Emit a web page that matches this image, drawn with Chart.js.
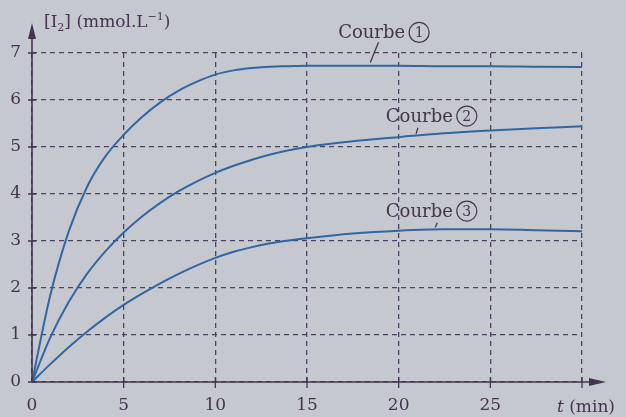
<!DOCTYPE html>
<html>
<head>
<meta charset="utf-8">
<script src="https://cdn.jsdelivr.net/npm/chart.js@4/dist/chart.umd.min.js"></script>
<style>
  body { margin: 0; background: #c6c8cf; }
  canvas { display: block; }
</style>
</head>
<body>
<canvas id="kinetics" width="626" height="417"></canvas>
<script>
// Data (t in min, [I2] in mmol/L)
const times = [0, 1, 2, 3, 4, 5, 6, 7, 8, 9, 10, 11, 12, 13, 14, 15, 17.5, 20, 22.5, 25, 27.5, 30];
const courbe1 = [0, 1.85, 3.2, 4.15, 4.8, 5.26, 5.64, 5.95, 6.2, 6.39, 6.54, 6.63, 6.68, 6.71, 6.72, 6.73, 6.73, 6.73, 6.72, 6.72, 6.71, 6.7];
const courbe2 = [0, 0.95, 1.7, 2.3, 2.78, 3.18, 3.52, 3.81, 4.06, 4.27, 4.45, 4.6, 4.73, 4.84, 4.93, 5.0, 5.12, 5.21, 5.29, 5.35, 5.4, 5.44];
const courbe3 = [0, 0.38, 0.74, 1.07, 1.37, 1.64, 1.88, 2.1, 2.3, 2.48, 2.64, 2.77, 2.87, 2.95, 3.01, 3.06, 3.16, 3.22, 3.25, 3.25, 3.23, 3.21];
const xTicks = [0, 5, 10, 15, 20, 25];
const yTicks = [0, 1, 2, 3, 4, 5, 6, 7];

const ink = '#45344f';
const gridColor = '#4b4360';
const curveColor = '#3266a3';
const serif = '"DejaVu Serif", serif';

// labels: number, text position (t, value at baseline), leader line ends
const curveLabels = [
  { n: '1', t: 16.7, v: 7.31, from: [18.9, 7.23], to: [18.45, 6.8] },
  { n: '2', t: 19.3, v: 5.53, from: [21.05, 5.41], to: [20.95, 5.28] },
  { n: '3', t: 19.3, v: 3.51, from: [22.1, 3.39], to: [22.0, 3.29] }
];

function toPoints(vals) {
  return vals.map((v, i) => ({ x: times[i], y: v }));
}

function curve(vals) {
  return {
    data: toPoints(vals),
    borderColor: curveColor,
    borderWidth: 2,
    pointRadius: 0,
    fill: false,
    cubicInterpolationMode: 'monotone'
  };
}

const decorations = {
  id: 'decorations',
  afterDraw(chart) {
    const ctx = chart.ctx;
    const xs = chart.scales.x, ys = chart.scales.y;
    const x0 = xs.getPixelForValue(0), y0 = ys.getPixelForValue(0);
    ctx.save();
    ctx.strokeStyle = ink;
    ctx.fillStyle = ink;
    ctx.lineWidth = 1.6;

    // axes
    ctx.beginPath();
    ctx.moveTo(x0, y0);
    ctx.lineTo(x0, 36);
    ctx.moveTo(x0, y0);
    ctx.lineTo(592, y0);
    ctx.stroke();
    // arrow heads
    ctx.beginPath();
    ctx.moveTo(x0, 23);
    ctx.lineTo(x0 - 4, 39);
    ctx.lineTo(x0 + 4, 39);
    ctx.closePath();
    ctx.fill();
    ctx.beginPath();
    ctx.moveTo(606, y0);
    ctx.lineTo(589, y0 - 4);
    ctx.lineTo(589, y0 + 4);
    ctx.closePath();
    ctx.fill();

    // tick crosses
    ctx.lineWidth = 1.3;
    ctx.beginPath();
    yTicks.forEach(v => {
      const y = ys.getPixelForValue(v);
      ctx.moveTo(x0 - 4, y);
      ctx.lineTo(x0 + 4, y);
    });
    [5, 10, 15, 20, 25, 30].forEach(v => {
      const x = xs.getPixelForValue(v);
      ctx.moveTo(x, y0 - 5);
      ctx.lineTo(x, y0 + 6);
    });
    ctx.stroke();

    // axis titles
    ctx.textBaseline = 'alphabetic';
    ctx.textAlign = 'left';
    let x = 44;
    const by = 27;
    ctx.font = '17px ' + serif;
    ctx.fillText('[I', x, by); x += ctx.measureText('[I').width;
    ctx.font = '11px ' + serif;
    ctx.fillText('2', x, by + 4); x += ctx.measureText('2').width;
    ctx.font = '17px ' + serif;
    ctx.fillText('] (mmol.L', x, by); x += ctx.measureText('] (mmol.L').width;
    ctx.font = '11px ' + serif;
    ctx.fillText('\u22121', x, by - 7); x += ctx.measureText('\u22121').width;
    ctx.font = '17px ' + serif;
    ctx.fillText(')', x, by);

    ctx.font = 'italic 17px ' + serif;
    ctx.fillText('t', 557, 412);
    let tw = ctx.measureText('t ').width;
    ctx.font = '17px ' + serif;
    ctx.fillText('(min)', 557 + tw, 412);

    // curve labels
    curveLabels.forEach(l => {
      const lx = xs.getPixelForValue(l.t), ly = ys.getPixelForValue(l.v);
      ctx.font = '18px ' + serif;
      ctx.fillText('Courbe', lx, ly);
      const w = ctx.measureText('Courbe').width;
      const cx = lx + w + 14, cy = ly - 6;
      ctx.lineWidth = 1.2;
      ctx.beginPath();
      ctx.arc(cx, cy, 10, 0, Math.PI * 2);
      ctx.stroke();
      ctx.font = '14px ' + serif;
      ctx.textAlign = 'center';
      ctx.textBaseline = 'middle';
      ctx.fillText(l.n, cx, cy + 1);
      ctx.textAlign = 'left';
      ctx.textBaseline = 'alphabetic';
      ctx.lineWidth = 1.3;
      ctx.beginPath();
      ctx.moveTo(xs.getPixelForValue(l.from[0]), ys.getPixelForValue(l.from[1]));
      ctx.lineTo(xs.getPixelForValue(l.to[0]), ys.getPixelForValue(l.to[1]));
      ctx.stroke();
    });
    ctx.restore();
  }
};

new Chart(document.getElementById('kinetics'), {
  type: 'line',
  data: {
    datasets: [curve(courbe1), curve(courbe2), curve(courbe3)]
  },
  options: {
    responsive: false,
    animation: false,
    layout: { padding: { left: 0, right: 44, top: 53, bottom: 0 } },
    plugins: { legend: { display: false }, tooltip: { enabled: false } },
    scales: {
      x: {
        type: 'linear',
        min: 0,
        max: 30,
        afterFit: s => { s.height = 35; },
        afterBuildTicks: s => { s.ticks = [0, 5, 10, 15, 20, 25, 30].map(v => ({ value: v })); },
        ticks: {
          callback: v => (xTicks.includes(v) ? v : ''),
          color: ink,
          font: { family: serif, size: 17 },
          padding: 13,
          maxRotation: 0
        },
        grid: { color: gridColor, lineWidth: 1.3, drawTicks: false },
        border: { display: false, dash: [5, 4] }
      },
      y: {
        min: 0,
        max: 7,
        afterFit: s => { s.width = 32; },
        ticks: {
          stepSize: 1,
          color: ink,
          font: { family: serif, size: 17 },
          padding: 11
        },
        grid: { color: gridColor, lineWidth: 1.3, drawTicks: false },
        border: { display: false, dash: [5, 4] }
      }
    }
  },
  plugins: [decorations]
});
</script>
</body>
</html>
